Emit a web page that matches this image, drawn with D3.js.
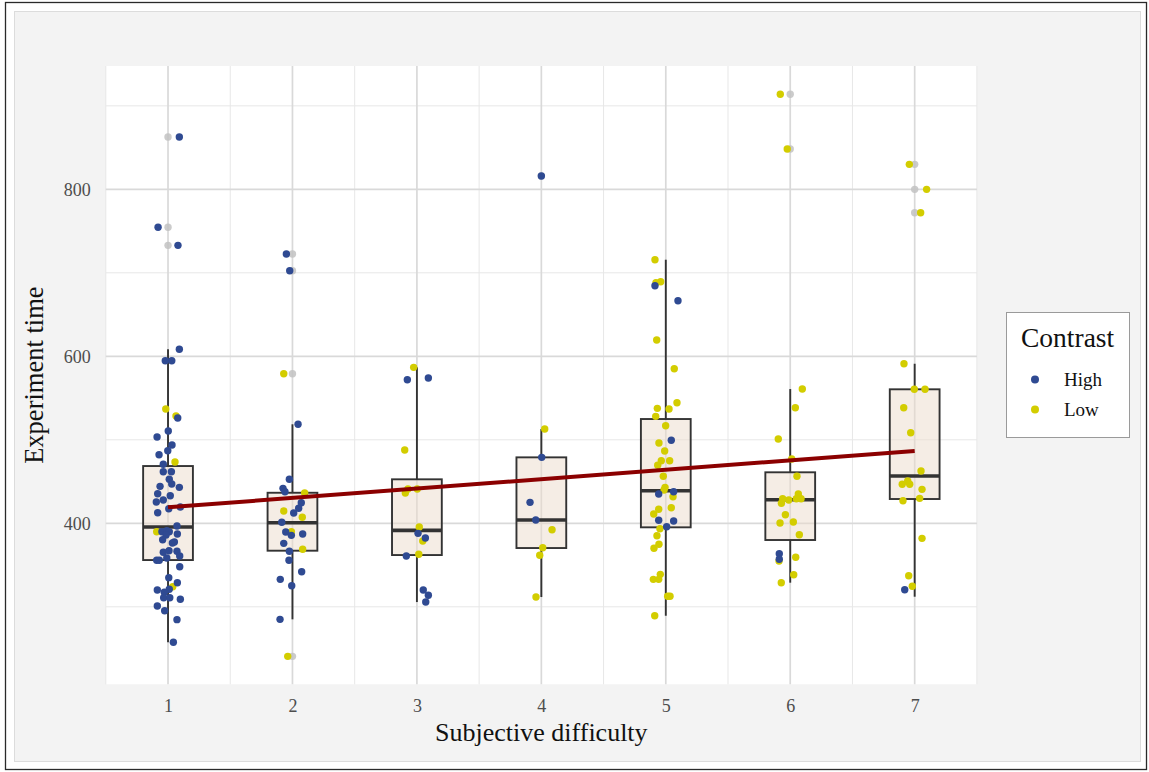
<!DOCTYPE html>
<html>
<head>
<meta charset="utf-8">
<script src="https://cdn.jsdelivr.net/npm/d3@7"></script>
<style>
  html, body { margin: 0; padding: 0; background: #ffffff; }
  svg { display: block; }
  text { font-family: "Liberation Serif", "DejaVu Serif", serif; }
</style>
</head>
<body>
<svg id="chart" width="1149" height="772"></svg>
<script>
// Subjective difficulty rating (1-7)
const categories = [1, 2, 3, 4, 5, 6, 7];

// Box summary per difficulty level
const boxQ1        = [356.0, 367.2, 362.0, 370.4, 395.2, 380.0, 429.1];
const boxMedian    = [395.6, 400.7, 391.6, 404.0, 439.0, 428.3, 456.6];
const boxQ3        = [468.6, 436.6, 452.7, 479.0, 524.9, 461.1, 560.5];
const whiskerLow   = [257.5, 285.0, 305.7, 311.7, 289.3, 328.9, 312.1];
const whiskerHigh  = [608.4, 518.6, 586.8, 512.9, 715.7, 560.8, 591.1];

// Boxplot outliers: [difficulty, time]
const outliers = [
  [1, 862.6], [1, 754.5], [1, 732.9],
  [2, 722.5], [2, 702.5], [2, 579.2], [2, 240.7],
  [4, 815.9],
  [6, 913.8], [6, 848.3],
  [7, 829.9], [7, 800.0], [7, 772.0]
];

// Jittered observations, high contrast: [difficulty + jitter, time]
const highPoints = [
  [1.091, 862.6], [0.920, 754.5], [1.080, 732.9], [1.091, 608.4], [0.978, 594.7],
  [1.030, 594.7], [1.078, 526.1], [1.002, 510.5], [0.912, 503.4], [1.032, 493.8],
  [0.998, 486.9], [0.928, 482.2], [0.962, 470.7], [0.962, 461.8], [1.027, 461.8],
  [1.010, 452.7], [1.030, 447.1], [0.936, 444.3], [1.091, 443.1], [0.917, 435.4],
  [1.018, 433.1], [0.962, 427.9], [0.906, 425.5], [1.006, 417.5], [1.099, 419.5],
  [0.917, 412.7], [1.072, 396.8], [0.951, 389.9], [0.990, 391.1], [1.010, 389.9],
  [0.984, 386.0], [1.075, 387.2], [0.957, 380.4], [1.051, 377.6], [1.035, 376.4],
  [0.962, 365.3], [1.008, 367.2], [1.072, 366.5], [1.094, 360.8], [0.990, 358.4],
  [0.909, 355.7], [0.930, 355.7], [1.094, 348.0], [1.006, 334.9], [1.075, 328.9],
  [1.010, 321.0], [0.914, 320.1], [0.970, 317.4], [0.965, 310.9], [1.014, 310.9],
  [1.099, 309.0], [0.914, 301.0], [0.973, 295.3], [1.072, 284.6], [1.043, 257.5],
  [1.951, 722.5], [1.978, 702.5], [2.045, 518.6], [1.975, 452.7], [1.924, 441.9],
  [1.940, 437.8], [2.071, 424.7], [2.050, 418.0], [2.010, 412.3], [1.914, 401.2],
  [1.946, 389.6], [1.991, 385.6], [2.082, 387.2], [1.930, 376.0], [1.975, 366.5],
  [1.972, 355.7], [2.074, 342.0], [1.902, 332.9], [1.994, 325.3], [1.900, 285.0],
  [2.923, 572.0], [3.092, 574.0], [3.009, 388.0], [3.068, 382.4], [2.915, 360.8],
  [3.051, 320.1], [3.092, 313.8], [3.071, 305.7],
  [4.000, 815.9], [4.003, 479.0], [3.909, 425.1], [3.955, 404.0],
  [4.913, 684.6], [5.098, 666.6], [5.044, 499.4], [4.943, 435.1], [5.063, 437.8],
  [4.943, 403.6], [5.063, 402.8], [5.007, 395.9],
  [5.912, 363.6], [5.912, 356.9],
  [6.920, 320.5]
];

// Jittered observations, low contrast: [difficulty + jitter, time]
const lowPoints = [
  [0.982, 536.9], [1.064, 528.5], [1.056, 473.4], [0.909, 389.9], [1.038, 324.1],
  [1.930, 579.2], [2.098, 436.3], [1.930, 414.7], [2.079, 407.2], [1.991, 389.9],
  [2.082, 368.9], [1.962, 240.7],
  [2.974, 586.8], [2.902, 487.8], [2.928, 441.1], [3.003, 441.1], [2.907, 436.3],
  [3.019, 395.6], [3.047, 378.8], [3.015, 362.9],
  [4.027, 512.9], [4.086, 392.3], [4.011, 370.8], [3.987, 361.7], [3.957, 311.7],
  [4.913, 715.7], [4.959, 689.3], [4.921, 688.1], [4.927, 619.5], [5.068, 585.1],
  [5.090, 544.4], [4.932, 537.7], [5.026, 536.9], [4.919, 528.1], [4.999, 516.9],
  [4.945, 496.2], [4.991, 486.6], [4.964, 475.0], [5.031, 475.0], [4.935, 469.5],
  [4.980, 456.3], [4.994, 443.1], [4.986, 439.9], [5.058, 431.9], [5.044, 418.7],
  [4.943, 416.8], [4.903, 411.1], [4.953, 393.5], [4.929, 385.1], [4.945, 374.9],
  [4.905, 370.1], [4.956, 338.9], [4.900, 332.9], [4.943, 332.9], [5.015, 312.6],
  [5.034, 312.6], [4.911, 289.3],
  [5.920, 913.8], [5.976, 848.3], [6.097, 560.8], [6.041, 538.4], [5.904, 501.0],
  [6.012, 477.0], [6.054, 456.3], [6.065, 435.1], [6.087, 429.5], [6.049, 429.5],
  [5.939, 429.5], [5.988, 427.9], [5.929, 424.0], [5.961, 410.3], [5.918, 400.4],
  [6.025, 401.6], [6.073, 386.3], [5.910, 354.9], [6.044, 359.3], [6.028, 338.4],
  [5.928, 328.9],
  [6.957, 829.9], [7.096, 800.0], [7.048, 772.0], [6.914, 591.1], [6.997, 560.5],
  [7.083, 560.5], [6.912, 538.4], [6.968, 508.5], [7.051, 462.6], [6.944, 450.7],
  [6.900, 446.7], [6.960, 446.7], [7.059, 440.7], [7.040, 429.9], [6.906, 427.1],
  [7.059, 382.0], [6.952, 337.2], [6.981, 324.6]
];

// Linear fit of time on difficulty, evaluated at the ends of the range
const trendLine = [[1, 419.2], [7, 486.6]];

const yMajorTicks = [400, 600, 800];
const yMinorTicks = [300, 500, 700, 900];
const xMinorTicks = [0.5, 1.5, 2.5, 3.5, 4.5, 5.5, 6.5, 7.5];
const legendLabels = ["High", "Low"];
const legendColors = ["#2f4a92", "#d3cd00"];

// ---------------------------------------------------------------
const svg = d3.select("#chart");

const panel = { left: 105.8, right: 976.9, top: 66, bottom: 684.3 };

const x = d3.scaleLinear().domain([0.5, 7.5]).range([panel.left, panel.right]);
const y = d3.scaleLinear().domain([207.2, 947.7]).range([panel.bottom, panel.top]);

// Outer frame and plot background
svg.append("rect")
  .attr("x", 5.5).attr("y", 2.5).attr("width", 1141).attr("height", 767)
  .attr("fill", "#ffffff").attr("stroke", "#2a2a2a").attr("stroke-width", 1.3);
svg.append("rect")
  .attr("x", 14.5).attr("y", 11.5).attr("width", 1126).attr("height", 750)
  .attr("fill", "#f3f3f3").attr("stroke", "#dcdcdc").attr("stroke-width", 1);

// Panel
svg.append("rect")
  .attr("x", panel.left).attr("y", panel.top)
  .attr("width", panel.right - panel.left).attr("height", panel.bottom - panel.top)
  .attr("fill", "#ffffff");

const grid = svg.append("g");
grid.selectAll("line.ymin").data(yMinorTicks).join("line")
  .attr("x1", panel.left).attr("x2", panel.right)
  .attr("y1", d => y(d)).attr("y2", d => y(d))
  .attr("stroke", "#e7e7e7").attr("stroke-width", 1);
grid.selectAll("line.xmin").data(xMinorTicks).join("line")
  .attr("y1", panel.top).attr("y2", panel.bottom)
  .attr("x1", d => x(d)).attr("x2", d => x(d))
  .attr("stroke", "#e7e7e7").attr("stroke-width", 1);
grid.selectAll("line.ymaj").data(yMajorTicks).join("line")
  .attr("x1", panel.left).attr("x2", panel.right)
  .attr("y1", d => y(d)).attr("y2", d => y(d))
  .attr("stroke", "#d9d9d9").attr("stroke-width", 1.7);
grid.selectAll("line.xmaj").data(categories).join("line")
  .attr("y1", panel.top).attr("y2", panel.bottom)
  .attr("x1", d => x(d)).attr("x2", d => x(d))
  .attr("stroke", "#d9d9d9").attr("stroke-width", 1.7);

// Axes (labels only)
const yAxis = svg.append("g")
  .attr("transform", `translate(${panel.left},0)`)
  .call(d3.axisLeft(y).tickValues(yMajorTicks).tickSize(0).tickPadding(15));
yAxis.select(".domain").remove();
yAxis.selectAll("text")
  .attr("font-family", "Liberation Serif").attr("font-size", 18).attr("fill", "#4d4d4d");

const xAxis = svg.append("g")
  .attr("transform", `translate(0,${panel.bottom})`)
  .call(d3.axisBottom(x).tickValues(categories).tickFormat(d3.format("d")).tickSize(0).tickPadding(15));
xAxis.select(".domain").remove();
xAxis.selectAll("text")
  .attr("font-family", "Liberation Serif").attr("font-size", 18).attr("fill", "#4d4d4d");

// Axis titles
svg.append("text")
  .attr("x", (panel.left + panel.right) / 2).attr("y", 741)
  .attr("text-anchor", "middle").attr("font-size", 26).attr("fill", "#111")
  .text("Subjective difficulty");
svg.append("text")
  .attr("transform", `translate(43,${(panel.top + panel.bottom) / 2}) rotate(-90)`)
  .attr("text-anchor", "middle").attr("font-size", 26.5).attr("fill", "#111")
  .text("Experiment time");

// Boxplots
const boxHalf = 0.2;
const boxes = svg.append("g");
const boxData = categories.map((c, i) => ({
  c, q1: boxQ1[i], med: boxMedian[i], q3: boxQ3[i], lo: whiskerLow[i], hi: whiskerHigh[i]
}));
boxes.selectAll("line.wu").data(boxData).join("line")
  .attr("x1", d => x(d.c)).attr("x2", d => x(d.c))
  .attr("y1", d => y(d.q3)).attr("y2", d => y(d.hi))
  .attr("stroke", "#333").attr("stroke-width", 1.9);
boxes.selectAll("line.wl").data(boxData).join("line")
  .attr("x1", d => x(d.c)).attr("x2", d => x(d.c))
  .attr("y1", d => y(d.q1)).attr("y2", d => y(d.lo))
  .attr("stroke", "#333").attr("stroke-width", 1.9);
boxes.selectAll("rect").data(boxData).join("rect")
  .attr("x", d => x(d.c - boxHalf)).attr("width", d => x(d.c + boxHalf) - x(d.c - boxHalf))
  .attr("y", d => y(d.q3)).attr("height", d => y(d.q1) - y(d.q3))
  .attr("fill", "#ecdccb").attr("fill-opacity", 0.5)
  .attr("stroke", "#333").attr("stroke-width", 1.9);
boxes.selectAll("line.med").data(boxData).join("line")
  .attr("x1", d => x(d.c - boxHalf)).attr("x2", d => x(d.c + boxHalf))
  .attr("y1", d => y(d.med)).attr("y2", d => y(d.med))
  .attr("stroke", "#333").attr("stroke-width", 3.6);
boxes.selectAll("circle").data(outliers).join("circle")
  .attr("cx", d => x(d[0])).attr("cy", d => y(d[1])).attr("r", 3.7)
  .attr("fill", "#c2c2c2").attr("fill-opacity", 0.85);

// Observations
svg.append("g").selectAll("circle").data(lowPoints).join("circle")
  .attr("cx", d => x(d[0])).attr("cy", d => y(d[1])).attr("r", 3.7)
  .attr("fill", legendColors[1]);
svg.append("g").selectAll("circle").data(highPoints).join("circle")
  .attr("cx", d => x(d[0])).attr("cy", d => y(d[1])).attr("r", 3.7)
  .attr("fill", legendColors[0]);

// Linear trend
svg.append("path")
  .datum(trendLine)
  .attr("d", d3.line().x(d => x(d[0])).y(d => y(d[1])))
  .attr("fill", "none").attr("stroke", "#8b0000").attr("stroke-width", 4);

// Legend
const lg = svg.append("g");
lg.append("rect")
  .attr("x", 1006.5).attr("y", 312.5).attr("width", 123).attr("height", 125)
  .attr("fill", "#ffffff").attr("stroke", "#9a9a9a").attr("stroke-width", 1);
lg.append("text")
  .attr("x", 1021).attr("y", 347).attr("font-size", 27.5).attr("fill", "#111")
  .text("Contrast");
const items = lg.selectAll("g.item").data(legendLabels).join("g")
  .attr("transform", (d, i) => `translate(0,${379.5 + i * 30})`);
items.append("circle").attr("cx", 1035).attr("cy", 0).attr("r", 4)
  .attr("fill", (d, i) => legendColors[i]);
items.append("text").attr("x", 1064).attr("y", 6.5)
  .attr("font-size", 19).attr("fill", "#111").text(d => d);
</script>
</body>
</html>
